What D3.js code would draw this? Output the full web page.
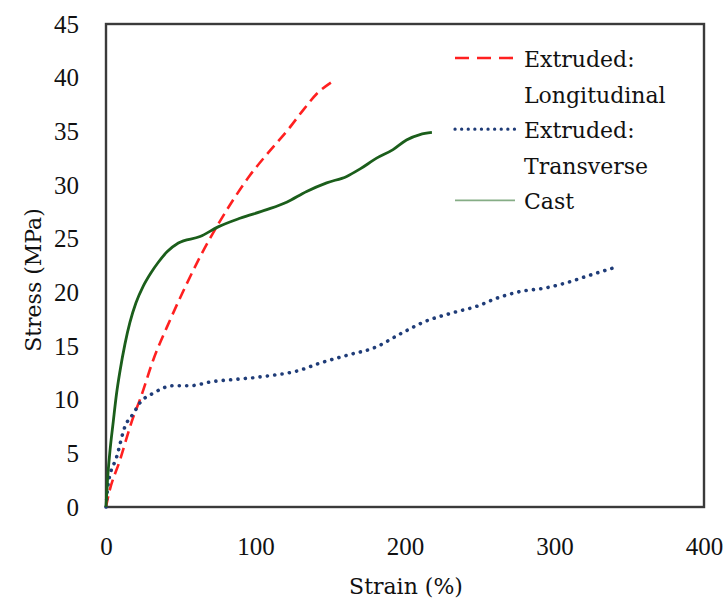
<!DOCTYPE html>
<meta charset="utf-8">
<div id="chart"></div>
<style>
body { margin: 0; background: #fff; }
svg { display: block; }
.tick-label { font-family: 'Liberation Serif', serif; font-size: 25px; fill: #111; }
.label { font-family: 'DejaVu Serif', serif; font-size: 22px; fill: #111; }
</style>
<script src="https://d3js.org/d3.v7.min.js"></script>
<script>
// Extruded: Longitudinal
var longStrain = [0, 1.5, 9.4, 18.3, 22.7, 31.6, 42.8, 54, 62.9, 74, 85, 96.3, 109.7, 122, 132, 141, 151];
var longStress = [0, 1, 4.4, 8.4, 10, 13.7, 17.4, 20.8, 23.3, 26.1, 28.6, 30.9, 33.2, 35.2, 37, 38.5, 39.6];

// Extruded: Transverse
var transStrain = [0, 1.5, 7.2, 12.7, 18.3, 22.7, 31.6, 45, 56, 71.8, 87.4, 107.5, 128.6, 143, 163, 178.8,
  197.8, 212, 232, 248, 262.4, 278, 293.6, 308.2, 323.7, 340];
var transStress = [0, 2.2, 4.7, 7.5, 8.7, 9.7, 10.6, 11.3, 11.3, 11.7, 11.9, 12.2, 12.7, 13.4, 14.2, 14.8,
  16.2, 17.2, 18.1, 18.7, 19.5, 20.1, 20.4, 20.9, 21.6, 22.3];

// Cast
var castStrain = [0, 1, 2.5, 4.9, 7, 9.4, 12.7, 16, 20, 25, 30, 35, 41, 48.4, 62.9, 75, 89.6, 107.5, 120.8, 134.2,
  147.6, 161, 170, 181, 192, 201, 210, 218];
var castStress = [0, 2.5, 5, 8, 10.5, 12.7, 15.2, 17.2, 19, 20.6, 21.8, 22.8, 23.8, 24.6, 25.2, 26.1, 26.9, 27.7, 28.4, 29.4,
  30.2, 30.8, 31.5, 32.5, 33.3, 34.2, 34.7, 34.9];

var xTicks = [0, 100, 200, 300, 400];
var yTicks = [0, 5, 10, 15, 20, 25, 30, 35, 40, 45];

var legendNames = [["Extruded:", "Longitudinal"], ["Extruded:", "Transverse"], ["Cast"]];

var w = 726, h = 608;
var margin = {left: 106, right: 22, top: 24, bottom: 101};

var x = d3.scaleLinear().domain([0, 400]).range([margin.left, w - margin.right]);
var y = d3.scaleLinear().domain([0, 45]).range([h - margin.bottom, margin.top]);

var svg = d3.select("#chart")
  .append("svg")
    .attr("width", w)
    .attr("height", h);

// tick labels
svg.append("g")
  .call(d3.axisBottom(x).tickValues(xTicks).tickSize(0).tickPadding(0).tickFormat(d3.format("d")))
  .attr("transform", "translate(0," + (h - margin.bottom) + ")")
  .call(function(g) {
    g.select(".domain").remove();
    g.selectAll("text").attr("class", "tick-label").attr("y", 48).attr("dy", null);
  });

svg.append("g")
  .call(d3.axisLeft(y).tickValues(yTicks).tickSize(0).tickPadding(0).tickFormat(d3.format("d")))
  .attr("transform", "translate(" + (margin.left - 27) + ",0)")
  .call(function(g) {
    g.select(".domain").remove();
    g.selectAll("text").attr("class", "tick-label").attr("dy", "0.33em");
  });

// frame
svg.append("rect")
  .attr("x", x(0))
  .attr("y", y(45))
  .attr("width", x(400) - x(0))
  .attr("height", y(0) - y(45))
  .attr("fill", "none")
  .attr("stroke", "#3a3a3a")
  .attr("stroke-width", 2.4);

var series = [
  {xs: longStrain, ys: longStress, color: "#ff2020", width: 2.6, dash: "11,6", cap: "butt"},
  {xs: transStrain, ys: transStress, color: "#1f3c78", width: 3.6, dash: "0.1,7.3", cap: "round"},
  {xs: castStrain, ys: castStress, color: "#1b5e1b", width: 2.8, dash: null, cap: "butt"}
];

var line = d3.line()
  .x(function(d) { return x(d[0]); })
  .y(function(d) { return y(d[1]); })
  .curve(d3.curveMonotoneX);

svg.selectAll(".series")
  .data(series)
  .enter()
  .append("path")
    .attr("class", "series")
    .attr("d", function(s) { return line(d3.zip(s.xs, s.ys)); })
    .attr("fill", "none")
    .attr("stroke", function(s) { return s.color; })
    .attr("stroke-width", function(s) { return s.width; })
    .attr("stroke-dasharray", function(s) { return s.dash; })
    .attr("stroke-linecap", function(s) { return s.cap; })
    .attr("stroke-linejoin", "round");

// legend
var legendKeys = [
  {color: "#ff2020", width: 2.6, dash: "14,8", cap: "butt"},
  {color: "#1f3c78", width: 3.2, dash: "0.1,6.5", cap: "round"},
  {color: "#86ad86", width: 1.8, dash: null, cap: "butt"}
];
var rowH = 35.6;
var lx = 455, tx = 524, ly = 67;
var row = 0;
legendNames.forEach(function(names, i) {
  var base = ly + row * rowH;
  svg.append("line")
    .attr("x1", lx).attr("x2", lx + 60)
    .attr("y1", base - 9).attr("y2", base - 9)
    .attr("stroke", legendKeys[i].color)
    .attr("stroke-width", legendKeys[i].width)
    .attr("stroke-dasharray", legendKeys[i].dash)
    .attr("stroke-linecap", legendKeys[i].cap);
  names.forEach(function(n, j) {
    svg.append("text")
      .attr("class", "label")
      .attr("x", tx)
      .attr("y", base + j * rowH)
      .text(n);
  });
  row += names.length;
});

// axis titles
svg.append("text")
  .attr("class", "label")
  .attr("text-anchor", "middle")
  .attr("x", 406)
  .attr("y", 594)
  .text("Strain (%)");

svg.append("text")
  .attr("class", "label")
  .attr("text-anchor", "middle")
  .attr("transform", "translate(41,280) rotate(-90)")
  .text("Stress (MPa)");
</script>
